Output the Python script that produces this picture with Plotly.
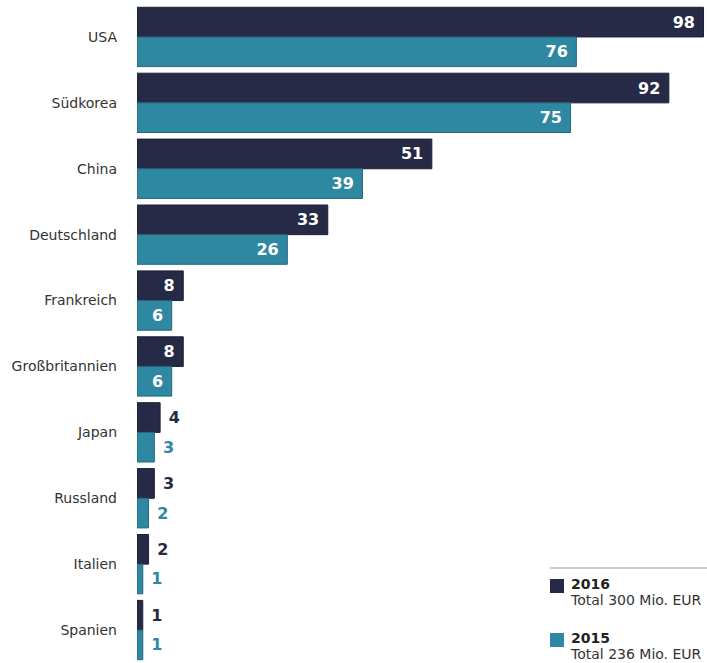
import plotly.graph_objects as go

# Data
countries = ["USA", "Südkorea", "China", "Deutschland", "Frankreich",
             "Großbritannien", "Japan", "Russland", "Italien", "Spanien"]
values_2016 = [98, 92, 51, 33, 8, 8, 4, 3, 2, 1]
values_2015 = [76, 75, 39, 26, 6, 6, 3, 2, 1, 1]
series_names = ["2016", "2015"]
totals = [300, 236]

NAVY = "#272a47"
TEAL = "#2f88a2"
FONT = "DejaVu Sans"

W, H = 707, 663
ML, MR, MT, MB = 137, 0, 4, 0
INSIDE_MIN = 6  # values below this get their label outside the bar


def label_props(vals, color):
    texts, pos, colors = [], [], []
    for v in vals:
        if v >= INSIDE_MIN:
            texts.append(f"{v}\u00a0")
            pos.append("inside")
            colors.append("white")
        else:
            texts.append(f"\u00a0{v}")
            pos.append("outside")
            colors.append(color)
    return texts, pos, colors


fig = go.Figure()
for name, vals, color, line in [
    (series_names[0], values_2016, NAVY, "#1d2036"),
    (series_names[1], values_2015, TEAL, "#2a6478"),
]:
    t, p, c = label_props(vals, color)
    fig.add_trace(go.Bar(
        y=countries, x=vals, name=name, orientation="h",
        marker=dict(color=color, line=dict(color=line, width=1)),
        text=t, textposition=p, insidetextanchor="end",
        textfont=dict(family=FONT, size=16, color=c, weight="bold"),
        constraintext="none", cliponaxis=False, hoverinfo="x+y+name",
    ))

# pixel -> paper helpers for the legend block
pw, ph = W - ML - MR, H - MT - MB


def px(x):
    return (x - ML) / pw


def py(y):
    return 1 - (y - MT) / ph


shapes = [
    dict(type="line", xref="paper", yref="paper",
         x0=px(550), x1=px(707), y0=py(568), y1=py(568),
         line=dict(color="#cccccc", width=2)),
]
annotations = []
legend_rows = [(579, NAVY), (633, TEAL)]
for (top, color), name, total in zip(legend_rows, series_names, totals):
    shapes.append(dict(type="rect", xref="paper", yref="paper",
                       x0=px(550), x1=px(564), y0=py(top), y1=py(top + 14),
                       fillcolor=color, line=dict(width=0)))
    annotations.append(dict(
        xref="paper", yref="paper", x=px(568), y=py(top + 13),
        text=(f"<span style='font-size:14px;color:#222222'><b>{name}</b></span><br>"
              f"<span style='font-size:14px'>Total {total} Mio. EUR</span>"),
        showarrow=False, align="left", xanchor="left", yanchor="middle",
        font=dict(family=FONT, size=12, color="#333333"),
    ))

fig.update_layout(
    width=W, height=H,
    margin=dict(l=ML, r=MR, t=MT, b=MB),
    barmode="group", bargap=0.1, bargroupgap=0,
    paper_bgcolor="white", plot_bgcolor="white",
    showlegend=False,
    shapes=shapes, annotations=annotations,
    xaxis=dict(range=[0, 98.6], visible=False),
    yaxis=dict(autorange="reversed", showgrid=False, zeroline=False,
               showline=False, ticks="", ticklabelstandoff=19,
               tickfont=dict(family=FONT, size=14, color="#333333")),
)

fig.write_html("out.html")
